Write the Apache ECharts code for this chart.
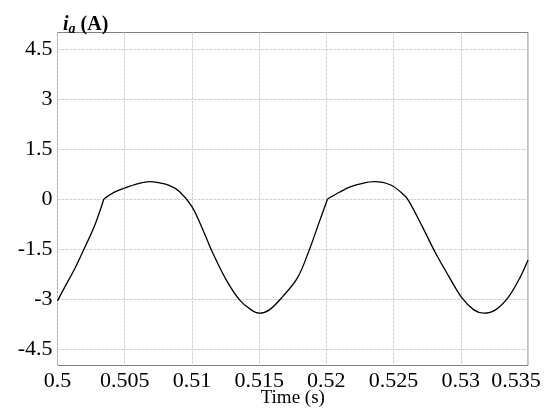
<!DOCTYPE html>
<html>
<head>
<meta charset="utf-8">
<script src="https://cdn.jsdelivr.net/npm/echarts@6/dist/echarts.min.js"></script>
<style>html,body{margin:0;padding:0;background:#fff}#c{width:550px;height:413px}</style>
</head>
<body>
<div id="c"></div>
<script>
// Time (s)
var times = [0.5000, 0.50056, 0.5013, 0.5020, 0.50278, 0.50345,
  0.5042, 0.5050, 0.5060, 0.50686, 0.5075, 0.50835, 0.50909, 0.5100, 0.51082, 0.51156,
  0.51255, 0.51354, 0.51441, 0.51502, 0.51576, 0.51675, 0.51786, 0.51873, 0.51935,
  0.52009, 0.5210, 0.52182, 0.5227, 0.52355, 0.52479, 0.52578, 0.52615, 0.52714, 0.52813,
  0.52912, 0.5301, 0.53097, 0.53171, 0.53258, 0.53357, 0.53444, 0.535];
// i_a (A)
var current = [-3.06, -2.63, -2.08, -1.48, -0.78, 0.0,
  0.20, 0.33, 0.46, 0.52, 0.49, 0.40, 0.22, -0.23, -0.93, -1.63,
  -2.43, -3.03, -3.33, -3.43, -3.33, -2.93, -2.36, -1.53, -0.83,
  0.0, 0.21, 0.37, 0.47, 0.52, 0.42, 0.12, -0.07, -0.83, -1.63,
  -2.33, -2.98, -3.33, -3.43, -3.33, -2.93, -2.33, -1.83];
var yTicks = [-4.5, -3, -1.5, 0, 1.5, 3, 4.5];
var xTicks = [0.5, 0.505, 0.51, 0.515, 0.52, 0.525, 0.53, 0.535];

var serif = '"Liberation Serif","Times New Roman",serif';
// split the trace at its corners (the points where the current starts rising from 0)
var segments = [[]];
times.forEach(function (t, i) {
  var seg = segments[segments.length - 1];
  seg.push([t, current[i]]);
  if (current[i] === 0 && i > 0 && i < times.length - 1) segments.push([[t, current[i]]]);
});
var series = segments.map(function (seg) {
  return {
    type: 'line', data: seg, showSymbol: false, smooth: 0.35,
    lineStyle: { color: '#000', width: 1.3 }
  };
});
var chart = echarts.init(document.getElementById('c'));
chart.setOption({
  animation: false,
  title: {
    text: '{i|i}{s|a}{b| (A)}',
    left: 58, top: 9,
    textStyle: {
      rich: {
        i: { fontFamily: serif, fontSize: 20, fontWeight: 'bold', fontStyle: 'italic', color: '#000' },
        s: { fontFamily: serif, fontSize: 14, fontWeight: 'bold', fontStyle: 'italic', color: '#000', verticalAlign: 'bottom', padding: [8, 0, 0, 0] },
        b: { fontFamily: serif, fontSize: 20, fontWeight: 'bold', color: '#000' }
      }
    }
  },
  grid: { left: 57.5, right: 22, top: 32.5, bottom: 47.5, show: true, borderColor: '#808080', borderWidth: 1, containLabel: false, outerBoundsMode: 'none' },
  xAxis: {
    type: 'value', min: 0.5, max: 0.535, interval: 0.005,
    name: 'Time (s)', nameLocation: 'middle', nameGap: 23, nameMoveOverlap: false,
    nameTextStyle: { fontFamily: serif, fontSize: 19, color: '#000' },
    axisLine: { show: false },
    axisTick: { show: false },
    axisLabel: {
      margin: 5, fontFamily: serif, fontSize: 22, color: '#000',
      formatter: function (v) {
        var s = String(+v.toFixed(3));
        if (Math.abs(v - xTicks[xTicks.length - 1]) < 1e-9) return '{r|' + s + '}';
        return s;
      },
      rich: { r: { fontFamily: serif, fontSize: 22, color: '#000', padding: [0, 24, 0, 0] } }
    },
    splitLine: { show: true, lineStyle: { color: '#d0d0d0', width: 1, type: [3, 1] } }
  },
  yAxis: {
    type: 'value', min: -5, max: 5,
    axisLine: { show: false },
    axisTick: { show: false, customValues: yTicks },
    axisLabel: { customValues: yTicks, margin: 5, fontFamily: serif, fontSize: 22, color: '#000' },
    splitLine: { show: true, lineStyle: { color: '#d0d0d0', width: 1, type: [3, 1] } }
  },
  series: series
});
</script>
</body>
</html>
